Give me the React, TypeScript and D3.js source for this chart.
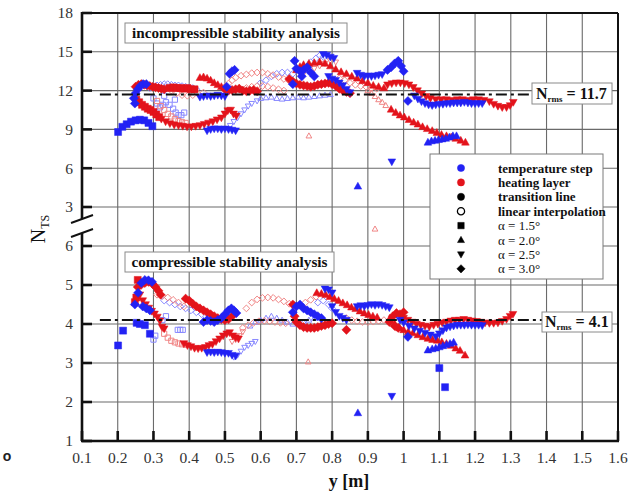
import React from 'react';
import * as d3 from 'd3';

type Pt = [number, number];

// ---- axes ----
const xTickValues = [0.1, 0.2, 0.3, 0.4, 0.5, 0.6, 0.7, 0.8, 0.9, 1.0, 1.1, 1.2, 1.3, 1.4, 1.5, 1.6];
const xTickLabels = ['0.1', '0.2', '0.3', '0.4', '0.5', '0.6', '0.7', '0.8', '0.9', '1', '1.1', '1.2', '1.3', '1.4', '1.5', '1.6'];
const upperTicks = [3, 6, 9, 12, 15, 18];
const lowerTicks = [1, 2, 3, 4, 5, 6];

const nRmsIncompressible = 11.7;
const nRmsCompressible = 4.1;

// ---- incompressible stability analysis: [y (m), N_TS] ----
// TS = temperature step, HL = heating layer; "o" suffix = linear interpolation
const incTS15: Pt[] = [[0.201, 8.8], [0.213, 9.2], [0.225, 9.4], [0.237, 9.6], [0.25, 9.7], [0.262, 9.75], [0.274, 9.7], [0.286, 9.5], [0.297, 9.25]];
const incTS15o: Pt[] = [[0.3, 11.4], [0.31, 11.0], [0.318, 10.7], [0.326, 10.9], [0.335, 11.1], [0.345, 10.9], [0.355, 10.6], [0.362, 10.3], [0.37, 10.1], [0.378, 10.1], [0.386, 10.3], [0.33, 11.6], [0.36, 11.3]];
const incTS20: Pt[] = [[1.068, 8.0], [1.078, 8.1], [1.088, 8.15], [1.098, 8.2], [1.108, 8.25], [1.118, 8.3], [1.128, 8.4], [1.138, 8.5], [1.148, 8.5], [0.872, 4.6]];
const incTS20o: Pt[] = [[0.6, 11.4], [0.615, 11.45], [0.63, 11.5], [0.645, 11.4], [0.66, 11.35], [0.675, 11.4], [0.69, 11.45], [0.705, 11.5], [0.72, 11.45], [0.735, 11.5], [0.75, 11.55], [0.765, 11.6], [0.78, 11.65], [0.795, 11.7]];
const incTS25: Pt[] = [
  [0.45, 8.9], [0.46, 9.0], [0.47, 9.05], [0.48, 9.05], [0.49, 9.0], [0.5, 9.05], [0.51, 9.0], [0.52, 8.95], [0.53, 8.9],
  [0.43, 11.5], [0.44, 11.55], [0.45, 11.6], [0.46, 11.55], [0.47, 11.6], [0.48, 11.65], [0.49, 11.6], [0.5, 11.55],
  [0.775, 14.8], [0.785, 14.75], [0.795, 14.6], [0.805, 14.5],
  [0.79, 13.1], [0.8, 12.9], [0.81, 12.8], [0.82, 12.6], [0.83, 12.4], [0.84, 12.1], [0.85, 11.85],
  [0.87, 13.35], [0.88, 13.2], [0.89, 13.1], [0.9, 13.15], [0.91, 13.1], [0.92, 13.15], [0.93, 13.2], [0.94, 13.25],
  [1.03, 11.6], [1.04, 11.35], [1.05, 11.15], [1.06, 11.0], [1.07, 10.9], [1.08, 10.85], [1.09, 10.9], [1.1, 10.95], [1.11, 10.95], [1.12, 11.0], [1.13, 11.0], [1.14, 11.05], [1.15, 11.05], [1.16, 11.05], [1.17, 11.1], [1.18, 11.05], [1.19, 11.0], [1.2, 11.0], [1.21, 11.0], [1.22, 11.0],
  [0.967, 6.5],
];
const incTS25o: Pt[] = [[0.515, 9.3], [0.525, 9.6], [0.535, 9.9], [0.545, 10.2], [0.555, 10.5], [0.565, 10.8], [0.575, 11.0], [0.59, 11.2]];
const incTS30: Pt[] = [
  [0.245, 11.4], [0.25, 11.8], [0.256, 12.1], [0.263, 12.35], [0.271, 12.5], [0.28, 12.5], [0.248, 11.0],
  [0.505, 12.3], [0.513, 13.3], [0.52, 13.5], [0.527, 13.6],
  [0.69, 12.5], [0.695, 14.3], [0.7, 13.7], [0.71, 13.5], [0.72, 13.6], [0.73, 13.8], [0.74, 13.4], [0.75, 13.1], [0.715, 13.1],
  [0.955, 13.6], [0.965, 13.8], [0.975, 14.1], [0.985, 14.3], [0.993, 13.9], [1.0, 13.5], [1.012, 11.2],
];
const incTS30o: Pt[] = [
  [0.29, 12.2], [0.3, 12.35], [0.31, 12.4], [0.32, 12.45], [0.33, 12.5], [0.34, 12.5], [0.35, 12.45], [0.36, 12.4], [0.37, 12.4], [0.38, 12.35], [0.39, 12.3], [0.4, 12.25], [0.41, 12.2], [0.42, 12.1],
  [0.6, 12.6], [0.615, 12.8], [0.63, 13.1], [0.645, 13.3], [0.66, 13.4], [0.675, 13.4], [0.69, 13.3],
  [0.74, 14.2], [0.755, 14.5], [0.765, 14.7], [0.775, 14.6],
];
const incHL15: Pt[] = [
  [0.252, 11.3], [0.26, 11.1], [0.268, 10.9], [0.276, 10.75], [0.284, 10.6], [0.292, 10.5], [0.3, 10.35], [0.308, 10.15], [0.316, 9.95],
  [0.345, 12.2], [0.355, 12.25], [0.365, 12.2], [0.375, 12.2], [0.385, 12.15], [0.395, 12.2], [0.405, 12.1], [0.415, 12.1],
];
const incHL15o: Pt[] = [[0.31, 11.2], [0.32, 10.8], [0.33, 10.5], [0.34, 10.2], [0.35, 10.0], [0.36, 9.8], [0.37, 9.65], [0.38, 9.55], [0.39, 9.5]];
const incHL20: Pt[] = [
  [0.43, 13.0], [0.44, 13.05], [0.45, 12.95], [0.46, 12.8], [0.47, 12.6], [0.48, 12.45], [0.49, 12.3],
  [0.7, 13.6], [0.71, 13.85], [0.72, 14.0], [0.735, 14.1], [0.75, 14.15], [0.765, 14.2], [0.78, 14.1], [0.795, 13.9], [0.81, 13.65], [0.825, 13.45], [0.84, 13.3], [0.855, 13.1], [0.87, 12.95], [0.885, 12.75], [0.9, 12.6], [0.915, 12.4], [0.93, 12.3], [0.945, 12.2],
  [0.965, 10.55], [0.978, 10.3], [0.99, 10.1], [1.002, 9.95], [1.015, 9.75], [1.028, 9.55], [1.04, 9.4], [1.053, 9.2], [1.066, 9.05], [1.08, 8.9], [1.093, 8.75], [1.106, 8.6], [1.12, 8.5], [1.133, 8.4], [1.146, 8.3], [1.16, 8.15], [1.173, 8.0],
];
const incHL20o: Pt[] = [[0.9, 12.0], [0.91, 11.8], [0.92, 11.55], [0.93, 11.3], [0.94, 11.1], [0.95, 10.85], [0.735, 8.5], [0.92, 1.3]];
const incHL25: Pt[] = [
  [0.322, 9.8], [0.334, 9.6], [0.346, 9.45], [0.358, 9.35], [0.37, 9.3], [0.382, 9.25], [0.394, 9.2], [0.406, 9.2], [0.418, 9.25], [0.43, 9.3], [0.442, 9.4], [0.454, 9.5], [0.466, 9.6], [0.478, 9.75], [0.49, 9.9], [0.5, 10.2], [0.508, 10.45], [0.516, 10.5], [0.524, 10.2], [0.532, 10.05],
  [0.955, 12.45], [0.967, 12.55], [0.979, 12.6], [0.991, 12.6], [1.003, 12.55], [1.015, 12.45], [1.027, 12.25], [1.039, 12.0], [1.051, 11.75], [1.063, 11.55], [1.075, 11.4], [1.09, 11.3], [1.105, 11.3], [1.12, 11.3], [1.135, 11.25], [1.15, 11.3], [1.165, 11.3], [1.18, 11.25], [1.195, 11.3], [1.21, 11.3], [1.225, 11.25], [1.24, 11.15], [1.252, 10.95], [1.264, 10.8], [1.276, 10.7], [1.288, 10.7], [1.298, 10.85], [1.307, 11.1],
];
const incHL25o: Pt[] = [[0.72, 13.3], [0.735, 13.5], [0.75, 13.7], [0.765, 13.9], [0.78, 14.1], [0.795, 14.3], [0.81, 14.2]];
const incHL30: Pt[] = [
  [0.25, 12.3], [0.258, 12.45], [0.266, 12.5], [0.274, 12.45], [0.282, 12.4], [0.29, 12.35], [0.298, 12.3], [0.306, 12.25], [0.314, 12.2], [0.322, 12.15], [0.33, 12.1],
  [0.5, 12.1], [0.51, 12.0], [0.52, 12.05], [0.53, 12.1], [0.54, 12.15], [0.55, 12.0], [0.56, 11.95], [0.57, 12.0], [0.58, 12.05], [0.59, 11.95],
  [0.68, 12.9], [0.69, 12.7], [0.7, 12.55], [0.71, 12.45], [0.72, 12.4], [0.73, 12.35], [0.74, 12.3], [0.75, 12.35], [0.76, 12.45], [0.77, 12.5], [0.78, 12.55], [0.79, 12.6], [0.8, 12.5], [0.81, 12.35], [0.82, 12.15], [0.83, 12.0], [0.84, 11.9], [0.85, 11.8],
];
const incHL30o: Pt[] = [
  [0.5, 12.3], [0.51, 12.55], [0.52, 12.8], [0.53, 13.0], [0.545, 13.15], [0.56, 13.25], [0.575, 13.35], [0.59, 13.4], [0.605, 13.4], [0.62, 13.3], [0.635, 13.2], [0.65, 13.05], [0.665, 12.9], [0.68, 12.75],
  [0.53, 12.0], [0.545, 12.1], [0.56, 12.2], [0.575, 12.3], [0.59, 12.35], [0.605, 12.35], [0.62, 12.3], [0.635, 12.2], [0.65, 12.1], [0.665, 12.0],
  [0.82, 12.95], [0.835, 12.8], [0.85, 12.6], [0.865, 12.45], [0.88, 12.35], [0.895, 12.3], [0.91, 12.2], [0.925, 12.15],
  [0.35, 12.0], [0.365, 11.8], [0.38, 11.65], [0.395, 11.6], [0.41, 11.65], [0.425, 11.75], [0.44, 11.85],
];

// ---- compressible stability analysis: [y (m), N_TS] ----
const cmpTS15: Pt[] = [[0.201, 3.45], [0.215, 3.83], [0.253, 4.03], [0.262, 4.0], [0.276, 3.97], [0.29, 3.75], [1.1, 2.87], [1.116, 2.38]];
const cmpTS15o: Pt[] = [[0.3, 3.6], [0.305, 3.7], [0.325, 4.1], [0.335, 4.2], [0.368, 3.85], [0.375, 3.85], [0.382, 3.85]];
const cmpTS20: Pt[] = [[1.068, 3.33], [1.08, 3.36], [1.09, 3.38], [1.1, 3.41], [1.11, 3.44], [1.12, 3.47], [1.13, 3.5], [1.14, 3.53], [0.872, 1.72]];
const cmpTS20o: Pt[] = [[0.57, 3.95], [0.585, 4.05], [0.6, 4.1], [0.615, 4.15], [0.63, 4.2], [0.645, 4.15], [0.66, 4.1], [0.675, 4.05], [0.69, 4.0], [0.705, 4.0], [0.72, 4.05], [0.735, 4.1], [0.75, 4.15]];
const cmpTS25: Pt[] = [
  [0.45, 3.27], [0.46, 3.28], [0.47, 3.27], [0.48, 3.28], [0.49, 3.27], [0.5, 3.25], [0.51, 3.25], [0.52, 3.2], [0.53, 3.18],
  [0.78, 4.9], [0.79, 4.88], [0.8, 4.8],
  [0.8, 4.45], [0.81, 4.3], [0.82, 4.2], [0.83, 4.15], [0.84, 4.1],
  [0.87, 4.45], [0.88, 4.47], [0.89, 4.45], [0.9, 4.48], [0.91, 4.5], [0.92, 4.48], [0.93, 4.5], [0.94, 4.48], [0.95, 4.45], [0.96, 4.42],
  [0.99, 4.1], [1.0, 4.03], [1.015, 3.95], [1.03, 3.88], [1.045, 3.82], [1.06, 3.77], [1.075, 3.72], [1.09, 3.68], [1.1, 3.75], [1.11, 3.83], [1.12, 3.9], [1.13, 3.93], [1.14, 3.95], [1.15, 3.97], [1.16, 3.97], [1.17, 3.97], [1.18, 3.98], [1.19, 3.97], [1.2, 3.97], [1.21, 3.97], [1.22, 3.96],
  [0.967, 2.15],
];
const cmpTS25o: Pt[] = [[0.525, 3.15], [0.535, 3.2], [0.545, 3.3], [0.555, 3.4], [0.565, 3.45], [0.575, 3.5], [0.585, 3.55]];
const cmpTS30: Pt[] = [
  [0.248, 4.5], [0.257, 4.8], [0.266, 5.05], [0.276, 5.13], [0.286, 5.12], [0.296, 5.08], [0.27, 4.45], [0.28, 4.4], [0.29, 4.35],
  [0.44, 4.05], [0.45, 4.1], [0.46, 4.08], [0.47, 4.05], [0.48, 4.1], [0.49, 4.15], [0.5, 4.25], [0.51, 4.35], [0.518, 4.4], [0.525, 4.35], [0.532, 4.28],
  [0.69, 4.3], [0.7, 4.45], [0.71, 4.5], [0.72, 4.4], [0.73, 4.35], [0.74, 4.3], [0.75, 4.25], [0.76, 4.2], [0.77, 4.15],
  [1.012, 3.67],
];
const cmpTS30o: Pt[] = [
  [0.33, 4.6], [0.345, 4.55], [0.36, 4.5], [0.375, 4.45], [0.39, 4.4], [0.405, 4.35], [0.42, 4.3], [0.435, 4.25],
  [0.76, 4.55], [0.775, 4.6], [0.79, 4.5], [0.8, 4.4],
];
const cmpHL15: Pt[] = [[0.248, 4.56], [0.252, 4.68], [0.256, 5.13]];
const cmpHL15o: Pt[] = [[0.33, 3.75], [0.34, 3.65], [0.35, 3.57], [0.36, 3.53], [0.37, 3.5], [0.38, 3.48], [0.39, 3.47]];
const cmpHL20: Pt[] = [
  [0.757, 4.8], [0.77, 4.78], [0.782, 4.75], [0.794, 4.7], [0.806, 4.65], [0.818, 4.6], [0.83, 4.54], [0.842, 4.49], [0.854, 4.43], [0.866, 4.39], [0.878, 4.33], [0.89, 4.28], [0.902, 4.24], [0.914, 4.2], [0.926, 4.17],
  [0.962, 4.15], [0.975, 4.0], [0.988, 3.9], [1.0, 3.85], [1.013, 3.8], [1.026, 3.77], [1.04, 3.72], [1.054, 3.67], [1.068, 3.63], [1.081, 3.6], [1.094, 3.58], [1.107, 3.54], [1.12, 3.5], [1.133, 3.45], [1.146, 3.38], [1.158, 3.32], [1.172, 3.2],
];
const cmpHL20o: Pt[] = [[0.733, 3.03]];
const cmpHL25: Pt[] = [
  [0.262, 4.75], [0.27, 4.6], [0.278, 4.5], [0.287, 4.41], [0.295, 4.33], [0.303, 4.26], [0.311, 4.18], [0.318, 4.08], [0.324, 3.92], [0.33, 3.88],
  [0.385, 3.5], [0.395, 3.45], [0.405, 3.42], [0.415, 3.38], [0.425, 3.37], [0.435, 3.38], [0.445, 3.4], [0.455, 3.45], [0.465, 3.48], [0.475, 3.55], [0.485, 3.62], [0.495, 3.7], [0.505, 3.75], [0.513, 3.78], [0.522, 3.7], [0.53, 3.65], [0.538, 3.62],
  [1.0, 4.15], [1.012, 4.1], [1.024, 4.05], [1.036, 4.0], [1.048, 3.97], [1.06, 3.95], [1.072, 3.93], [1.084, 3.97], [1.096, 4.0], [1.108, 4.03], [1.12, 4.05], [1.132, 4.08], [1.144, 4.1], [1.156, 4.1], [1.168, 4.12], [1.18, 4.1], [1.192, 4.08], [1.204, 4.07], [1.216, 4.05], [1.228, 4.03], [1.24, 4.02], [1.252, 4.02], [1.264, 4.03], [1.276, 4.07], [1.288, 4.12], [1.298, 4.2], [1.306, 4.25],
];
const cmpHL25o: Pt[] = [[0.52, 3.55], [0.53, 3.6], [0.54, 3.7], [0.55, 3.8]];
const cmpHL30: Pt[] = [
  [0.256, 4.95], [0.265, 5.0], [0.276, 5.05], [0.287, 5.08], [0.298, 5.02], [0.306, 4.95], [0.314, 4.85], [0.32, 4.75],
  [0.39, 4.65], [0.4, 4.6], [0.41, 4.52], [0.42, 4.45], [0.43, 4.4], [0.44, 4.35], [0.45, 4.3], [0.46, 4.25], [0.47, 4.2], [0.48, 4.15], [0.49, 4.12], [0.5, 4.1], [0.51, 4.12], [0.52, 4.2],
  [0.69, 4.5], [0.695, 4.2], [0.7, 4.05], [0.71, 3.97], [0.72, 3.92], [0.73, 3.9], [0.74, 3.9], [0.75, 3.9], [0.76, 3.92], [0.77, 3.95], [0.78, 3.97], [0.79, 4.0], [0.8, 4.02], [0.84, 3.85],
  [0.96, 4.05], [0.97, 4.2], [0.98, 4.28], [0.99, 4.25], [1.0, 4.3], [0.975, 3.95], [0.985, 3.9],
];
const cmpHL30o: Pt[] = [
  [0.56, 4.4], [0.575, 4.55], [0.59, 4.63], [0.605, 4.67], [0.62, 4.68], [0.635, 4.67], [0.65, 4.63], [0.665, 4.58], [0.68, 4.52], [0.695, 4.48], [0.71, 4.5], [0.725, 4.55], [0.74, 4.62], [0.755, 4.7],
  [0.55, 3.9], [0.565, 3.97], [0.58, 4.03], [0.595, 4.07], [0.61, 4.08], [0.625, 4.07], [0.64, 4.05], [0.655, 4.03], [0.67, 4.02],
  [0.84, 4.15], [0.855, 4.1], [0.87, 4.07], [0.885, 4.05], [0.9, 4.05], [0.915, 4.06], [0.93, 4.08], [0.945, 4.1],
  [0.31, 4.75], [0.325, 4.72], [0.34, 4.68], [0.355, 4.62], [0.37, 4.55], [0.385, 4.45],
];

const legendLabels = ['temperature step', 'heating layer', 'transition line', 'linear interpolation', 'α = 1.5°', 'α = 2.0°', 'α = 2.5°', 'α = 3.0°'];

type Method = 'TS' | 'HL';
type Shape = 'square' | 'up' | 'down' | 'diamond' | 'circle';
interface Series { panel: 'inc' | 'cmp'; method: Method; shape: Shape; filled: boolean; pts: Pt[] }

const S = (panel: 'inc' | 'cmp', method: Method, shape: Shape, filled: boolean, pts: Pt[]): Series => ({ panel, method, shape, filled, pts });

const allSeries: Series[] = [
  S('inc', 'TS', 'square', false, incTS15o), S('inc', 'TS', 'up', false, incTS20o), S('inc', 'TS', 'down', false, incTS25o), S('inc', 'TS', 'diamond', false, incTS30o),
  S('inc', 'HL', 'square', false, incHL15o), S('inc', 'HL', 'up', false, incHL20o), S('inc', 'HL', 'down', false, incHL25o), S('inc', 'HL', 'diamond', false, incHL30o),
  S('cmp', 'TS', 'square', false, cmpTS15o), S('cmp', 'TS', 'up', false, cmpTS20o), S('cmp', 'TS', 'down', false, cmpTS25o), S('cmp', 'TS', 'diamond', false, cmpTS30o),
  S('cmp', 'HL', 'square', false, cmpHL15o), S('cmp', 'HL', 'up', false, cmpHL20o), S('cmp', 'HL', 'down', false, cmpHL25o), S('cmp', 'HL', 'diamond', false, cmpHL30o),
  S('inc', 'HL', 'square', true, incHL15), S('inc', 'HL', 'up', true, incHL20), S('inc', 'HL', 'down', true, incHL25), S('inc', 'HL', 'diamond', true, incHL30),
  S('inc', 'TS', 'square', true, incTS15), S('inc', 'TS', 'up', true, incTS20), S('inc', 'TS', 'down', true, incTS25), S('inc', 'TS', 'diamond', true, incTS30),
  S('cmp', 'HL', 'square', true, cmpHL15), S('cmp', 'HL', 'up', true, cmpHL20), S('cmp', 'HL', 'down', true, cmpHL25), S('cmp', 'HL', 'diamond', true, cmpHL30),
  S('cmp', 'TS', 'square', true, cmpTS15), S('cmp', 'TS', 'up', true, cmpTS20), S('cmp', 'TS', 'down', true, cmpTS25), S('cmp', 'TS', 'diamond', true, cmpTS30),
];

const COLORS = {
  TS: '#2222f4',
  HL: '#e3131b',
  TSopen: '#8888ff',
  HLopen: '#f08585',
};

function markerPath(shape: Shape, r: number): string {
  switch (shape) {
    case 'square':
      return `M${-r},${-r}h${2 * r}v${2 * r}h${-2 * r}Z`;
    case 'up':
      return `M0,${-r * 1.15}L${r * 1.1},${r * 0.8}L${-r * 1.1},${r * 0.8}Z`;
    case 'down':
      return `M0,${r * 1.15}L${r * 1.1},${-r * 0.8}L${-r * 1.1},${-r * 0.8}Z`;
    case 'diamond':
      return `M0,${-r * 1.3}L${r * 1.3},0L0,${r * 1.3}L${-r * 1.3},0Z`;
    default:
      return `M${r},0A${r},${r},0,1,1,${-r},0A${r},${r},0,1,1,${r},0Z`;
  }
}

const W = 632;
const H = 494;
const left = 82;
const right = 618;
const top = 13;
const bottom = 441;

const x = d3.scaleLinear().domain([0.1, 1.6]).range([left, right]);
const yUp = d3.scaleLinear().domain([3, 18]).range([207, top]);
const yLo = d3.scaleLinear().domain([1, 6]).range([bottom, 246]);

const serif = '"Liberation Serif", "Times New Roman", "DejaVu Serif", serif';

export default function App() {
  const gridX = xTickValues.slice(1, -1);
  const gridYUp = upperTicks.filter((t) => t !== 18);
  const gridYLo = lowerTicks.filter((t) => t !== 1);
  const legendRows = legendLabels.map((label, i) => ({ label, y: 168 + i * 14.4 }));
  const legendShapes: { shape: Shape; fill: string; open?: boolean }[] = [
    { shape: 'circle', fill: COLORS.TS },
    { shape: 'circle', fill: COLORS.HL },
    { shape: 'circle', fill: '#000' },
    { shape: 'circle', fill: '#000', open: true },
    { shape: 'square', fill: '#000' },
    { shape: 'up', fill: '#000' },
    { shape: 'down', fill: '#000' },
    { shape: 'diamond', fill: '#000' },
  ];

  return (
    <svg width={W} height={H} viewBox={`0 0 ${W} ${H}`} style={{ position: 'absolute', left: 0, top: 0, background: '#fff' }} fontFamily={serif}>
      <rect x={0} y={0} width={W} height={H} fill="#fff" />

      {/* grid */}
      <g stroke="#6a6a6a" strokeWidth={1.1}>
        {gridX.map((v) => (
          <line key={`gx${v}`} x1={x(v)} x2={x(v)} y1={top} y2={bottom} />
        ))}
        {gridYUp.map((v) => (
          <line key={`gu${v}`} x1={left} x2={right} y1={yUp(v)} y2={yUp(v)} />
        ))}
        {gridYLo.map((v) => (
          <line key={`gl${v}`} x1={left} x2={right} y1={yLo(v)} y2={yLo(v)} />
        ))}
      </g>

      {/* data markers */}
      <g>
        {allSeries.map((s, si) => {
          const yScale = s.panel === 'inc' ? yUp : yLo;
          const col = s.filled ? COLORS[s.method] : s.method === 'TS' ? COLORS.TSopen : COLORS.HLopen;
          const d = markerPath(s.shape, s.filled ? 3.5 : 2.6);
          return (
            <g key={si}>
              {s.pts.map(([px, py], i) => (
                <path
                  key={i}
                  d={d}
                  transform={`translate(${x(px)},${yScale(py)})`}
                  fill={s.filled ? col : 'none'}
                  stroke={col}
                  strokeWidth={s.filled ? 0.5 : 1}
                />
              ))}
            </g>
          );
        })}
      </g>

      {/* rms lines */}
      <g stroke="#111" strokeWidth={2} strokeDasharray="11,4,3,4">
        <line x1={x(0.15)} x2={532} y1={yUp(nRmsIncompressible)} y2={yUp(nRmsIncompressible)} />
        <line x1={x(0.15)} x2={542} y1={yLo(nRmsCompressible)} y2={yLo(nRmsCompressible)} />
      </g>

      {/* frame */}
      <g stroke="#111" fill="none">
        <line x1={left} x2={right} y1={top} y2={top} strokeWidth={2} />
        <line x1={right} x2={right} y1={top} y2={bottom} strokeWidth={2} />
        <line x1={left - 1} x2={right + 1} y1={bottom} y2={bottom} strokeWidth={2.6} />
        <line x1={left} x2={left} y1={top - 1} y2={219} strokeWidth={2.6} />
        <line x1={left} x2={left} y1={233} y2={bottom} strokeWidth={2.6} />
        {/* axis break marks */}
        <line x1={71} x2={93} y1={223} y2={215} strokeWidth={2} />
        <line x1={71} x2={93} y1={237} y2={229} strokeWidth={2} />
      </g>

      {/* ticks */}
      <g stroke="#111" strokeWidth={2.6}>
        {upperTicks.map((v) => (
          <line key={`tu${v}`} x1={left} x2={left + 10} y1={yUp(v)} y2={yUp(v)} />
        ))}
        {lowerTicks.map((v) => (
          <line key={`tl${v}`} x1={left} x2={left + 10} y1={yLo(v)} y2={yLo(v)} />
        ))}
        {xTickValues.map((v) => (
          <line key={`tx${v}`} x1={x(v)} x2={x(v)} y1={bottom} y2={bottom - 10} />
        ))}
      </g>

      {/* tick labels */}
      <g fill="#333" fontSize={15.5}>
        {upperTicks.map((v) => (
          <text key={`lu${v}`} x={73} y={yUp(v)} dy="0.35em" textAnchor="end">{v}</text>
        ))}
        {lowerTicks.map((v) => (
          <text key={`ll${v}`} x={73} y={yLo(v)} dy="0.35em" textAnchor="end">{v}</text>
        ))}
        {xTickValues.map((v, i) => (
          <text key={`lx${v}`} x={x(v)} y={463} textAnchor="middle">{xTickLabels[i]}</text>
        ))}
      </g>

      {/* axis titles */}
      <text x={349} y={487} textAnchor="middle" fontSize={18} fontWeight="bold" fill="#111">y [m]</text>
      <text transform="translate(45,229) rotate(-90)" textAnchor="middle" fontSize={20} fill="#111">
        N<tspan fontSize={12} dy={4}>TS</tspan>
      </text>
      <text x={7} y={461} textAnchor="middle" fontSize={14} fontWeight="bold" fontFamily="'Liberation Sans', Arial, sans-serif" fill="#222">o</text>

      {/* panel captions */}
      <g>
        <rect x={125} y={23} width={222} height={20} fill="#fff" stroke="#8a8a8a" strokeWidth={1} />
        <text x={236} y={38} textAnchor="middle" fontSize={14} fontWeight="bold" fill="#111" textLength={208} lengthAdjust="spacingAndGlyphs">incompressible stability analysis</text>
        <rect x={125} y={252} width={209} height={20} fill="#fff" stroke="#8a8a8a" strokeWidth={1} />
        <text x={229.5} y={267} textAnchor="middle" fontSize={14} fontWeight="bold" fill="#111" textLength={196} lengthAdjust="spacingAndGlyphs">compressible stability analysis</text>
      </g>

      {/* rms labels */}
      <g fontWeight="bold" fill="#111">
        <rect x={532} y={83} width={80} height={21} fill="#fff" stroke="#8a8a8a" strokeWidth={1} />
        <text x={536} y={99} fontSize={16}>
          N<tspan fontSize={9} dy={3}>rms</tspan><tspan fontSize={16} dy={-3}> = {nRmsIncompressible}</tspan>
        </text>
        <rect x={542} y={312} width={70} height={20} fill="#fff" stroke="#8a8a8a" strokeWidth={1} />
        <text x={545} y={327} fontSize={16}>
          N<tspan fontSize={9} dy={3}>rms</tspan><tspan fontSize={16} dy={-3}> = {nRmsCompressible}</tspan>
        </text>
      </g>

      {/* legend */}
      <g>
        <rect x={430} y={154} width={173} height={125} fill="#fff" stroke="#7a7a7a" strokeWidth={1} />
        {legendRows.map((row, i) => {
          const ls = legendShapes[i];
          return (
            <g key={row.label}>
              <path
                d={markerPath(ls.shape, ls.shape === 'circle' ? 3.6 : 3.2)}
                transform={`translate(461,${row.y})`}
                fill={ls.open ? 'none' : ls.fill}
                stroke={ls.fill}
                strokeWidth={ls.open ? 1.3 : 0.5}
              />
              <text x={498} y={row.y + 4.5} fontSize={13} fontWeight={i < 4 ? 'bold' : 'normal'} fill="#111">{row.label}</text>
            </g>
          );
        })}
      </g>
    </svg>
  );
}
